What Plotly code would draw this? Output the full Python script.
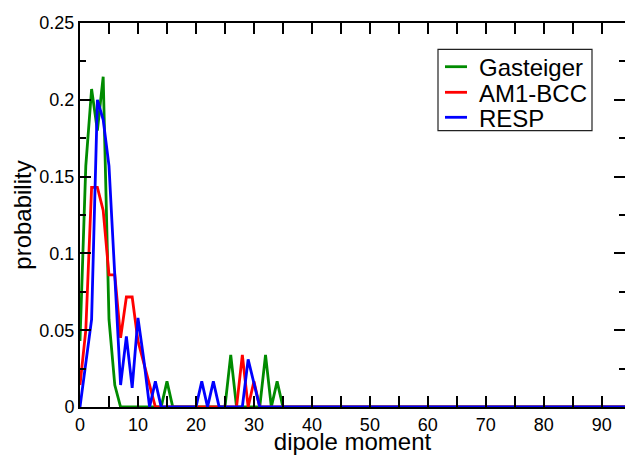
import plotly.graph_objects as go

# ---- data ----
dipole = [0, 1, 2, 3, 4, 5, 6, 7, 8, 9, 10, 11, 12, 13, 14, 15, 16, 17, 18, 19,
          20, 21, 22, 23, 24, 25, 26, 27, 28, 29, 30, 31, 32, 33, 34, 35, 100]

gasteiger = [0.043, 0.157, 0.207, 0.180, 0.215, 0.057, 0.0143, 0, 0, 0,
             0, 0, 0, 0, 0, 0.0167, 0, 0, 0, 0,
             0, 0, 0, 0, 0, 0, 0.034, 0, 0, 0,
             0, 0, 0.034, 0, 0.0167, 0, 0]

am1bcc = [0.0143, 0.050, 0.143, 0.143, 0.128, 0.086, 0.086, 0.045, 0.0716, 0.0716,
          0.043, 0.029, 0.0143, 0, 0, 0, 0, 0, 0, 0,
          0, 0, 0, 0, 0, 0, 0, 0, 0.034, 0,
          0.0167, 0, 0, 0, 0, 0, 0]

resp = [0, 0.028, 0.057, 0.200, 0.187, 0.157, 0.085, 0.0143, 0.046, 0.0125,
        0.058, 0.031, 0, 0.0167, 0, 0, 0, 0, 0, 0,
        0, 0.0167, 0, 0.0167, 0, 0, 0, 0, 0, 0.031,
        0.0155, 0, 0, 0, 0, 0, 0]

series_names = ["Gasteiger", "AM1-BCC", "RESP"]
series_colors = ["rgb(0,139,0)", "rgb(255,0,0)", "rgb(0,0,255)"]

x_tickvals = [0, 10, 20, 30, 40, 50, 60, 70, 80, 90]
x_ticktext = ["0", "10", "20", "30", "40", "50", "60", "70", "80", "90"]
y_tickvals = [0, 0.05, 0.1, 0.15, 0.2, 0.25]
y_ticktext = ["0", "0.05", "0.1", "0.15", "0.2", "0.25"]

FONT = "Liberation Sans, Arial, Helvetica, sans-serif"

fig = go.Figure()
for name, ys, col in zip(series_names, [gasteiger, am1bcc, resp], series_colors):
    fig.add_trace(go.Scatter(x=dipole, y=ys, mode="lines", name=name,
                             line=dict(color=col, width=2.8), showlegend=False))

# empty trace for right-side y ticks
fig.add_trace(go.Scatter(x=[None], y=[None], yaxis="y2", showlegend=False,
                         hoverinfo="skip"))

W, H = 625, 455
L, R, T, B = 80, 0, 23, 48
pw, ph = W - L - R, H - T - B


def px(x):
    return (x - L) / pw


def py(y):
    return (H - B - y) / ph


fig.update_layout(
    width=W, height=H,
    margin=dict(l=L, r=R, t=T, b=B),
    paper_bgcolor="white", plot_bgcolor="white",
    font=dict(family=FONT, color="black", size=18),
    showlegend=False,
    xaxis=dict(
        range=[0, 94], showgrid=False, zeroline=False,
        showline=True, linecolor="black", linewidth=2, mirror="allticks",
        ticks="inside", ticklen=11, tickwidth=1.5, tickcolor="black",
        tickvals=x_tickvals, ticktext=x_ticktext,
        tickfont=dict(size=18, family=FONT),
        minor=dict(ticks="inside", ticklen=6, tickwidth=1.5, dtick=5, tickcolor="black", showgrid=False),
        title=dict(text="dipole moment", font=dict(size=24, family=FONT), standoff=0),
    ),
    yaxis=dict(
        range=[0, 0.25], showgrid=False, zeroline=False,
        showline=True, linecolor="black", linewidth=2, mirror=False,
        ticks="inside", ticklen=11, tickwidth=1.5, tickcolor="black",
        tickvals=y_tickvals, ticktext=y_ticktext,
        tickfont=dict(size=18, family=FONT),
        minor=dict(ticks="inside", ticklen=6, tickwidth=1.5, dtick=0.025, tickcolor="black", showgrid=False),
        title=dict(text="probability", font=dict(size=24, family=FONT), standoff=1),
    ),
    yaxis2=dict(
        overlaying="y", side="right", range=[0, 0.25], showgrid=False, zeroline=False,
        showline=False, showticklabels=False,
        ticks="inside", ticklen=11, tickwidth=1.5, tickcolor="black",
        tickvals=y_tickvals,
        minor=dict(ticks="inside", ticklen=6, tickwidth=1.5, dtick=0.025, tickcolor="black", showgrid=False),
    ),
)

# custom legend box
shapes = [dict(type="rect", xref="paper", yref="paper",
               x0=px(438), x1=px(592), y0=py(130.7), y1=py(49.3),
               line=dict(color="#222", width=1.2), fillcolor="white", layer="above")]
annotations = []
for i, (name, col) in enumerate(zip(series_names, series_colors)):
    yy = [66.7, 92.3, 117.3][i]
    shapes.append(dict(type="line", xref="paper", yref="paper",
                       x0=px(445), x1=px(467), y0=py(yy), y1=py(yy),
                       line=dict(color=col, width=2.8), layer="above"))
    annotations.append(dict(xref="paper", yref="paper", x=px(477), y=py(yy + 1),
                            xanchor="left", yanchor="middle", showarrow=False,
                            text=name, font=dict(size=24, family=FONT, color="black")))
fig.update_layout(shapes=shapes, annotations=annotations)

fig.write_html("out.html",
               config={"displayModeBar": False},
               post_script="document.body.style.margin='0px';document.body.style.overflow='hidden';")
